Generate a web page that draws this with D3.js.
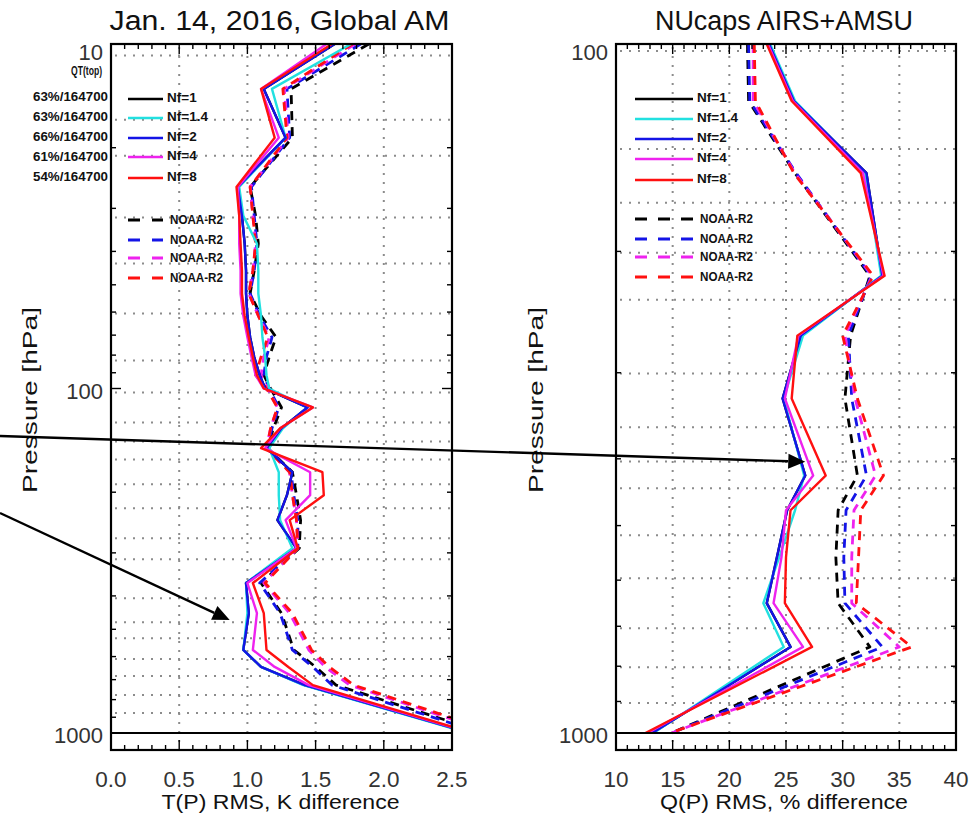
<!DOCTYPE html>
<html>
<head>
<meta charset="utf-8">
<script src="https://cdn.jsdelivr.net/npm/d3@7"></script>
<style>
  html, body { margin: 0; padding: 0; background: #fff; }
  svg { display: block; font-family: "Liberation Sans", Arial, sans-serif; }
</style>
</head>
<body>
<svg id="chart" width="976" height="822"></svg>
<script>
// ---------------- Temperature panel: T(P) RMS difference (K) ----------------
const tLevels = [10, 13.5, 18.7, 26, 31.5, 38, 45.5, 53, 61.5, 71, 81, 91.5, 100,
                 113.5, 130.5, 149, 175, 204, 241, 291, 367, 449, 574, 643, 726, 1000];
const tNf1  = [1.64, 1.12, 1.28, 0.93, 0.96, 0.98, 0.99, 0.99, 1.00, 1.02, 1.05, 1.09, 1.13,
               1.44, 1.25, 1.14, 1.33, 1.29, 1.22, 1.36, 0.99, 1.01, 0.97, 1.10, 1.42, 2.63];
const tNf14 = [1.76, 1.18, 1.28, 0.94, 0.97, 1.07, 1.08, 1.08, 1.10, 1.11, 1.13, 1.14, 1.16,
               1.44, 1.26, 1.16, 1.23, 1.23, 1.24, 1.33, 0.99, 1.00, 0.97, 1.10, 1.41, 2.62];
const tNf2  = [1.64, 1.12, 1.28, 0.93, 0.96, 0.98, 0.99, 0.99, 1.00, 1.02, 1.05, 1.09, 1.13,
               1.44, 1.25, 1.14, 1.33, 1.29, 1.22, 1.36, 0.99, 1.01, 0.97, 1.10, 1.42, 2.63];
const tNf4  = [1.58, 1.10, 1.23, 0.93, 0.94, 0.94, 0.95, 0.95, 0.97, 1.00, 1.03, 1.06, 1.12,
               1.48, 1.24, 1.13, 1.46, 1.46, 1.28, 1.36, 1.00, 1.07, 1.04, 1.20, 1.45, 2.64];
const tNf8  = [1.62, 1.10, 1.20, 0.92, 0.94, 0.95, 0.96, 0.96, 0.98, 1.01, 1.04, 1.07, 1.12,
               1.48, 1.24, 1.10, 1.55, 1.56, 1.31, 1.37, 1.04, 1.12, 1.14, 1.30, 1.48, 2.65];
const tR2k  = [1.89, 1.32, 1.33, 1.02, 1.06, 1.08, 1.05, 1.02, 1.10, 1.21, 1.16, 1.12, 1.17,
               1.25, 1.19, 1.15, 1.33, 1.36, 1.39, 1.38, 1.10, 1.25, 1.34, 1.50, 1.65, 2.75];
const tR2b  = [1.83, 1.29, 1.31, 1.03, 1.05, 1.07, 1.05, 1.02, 1.09, 1.18, 1.14, 1.12, 1.16,
               1.23, 1.18, 1.15, 1.32, 1.34, 1.37, 1.37, 1.09, 1.24, 1.33, 1.48, 1.62, 2.72];
const tR2m  = [1.79, 1.27, 1.30, 1.02, 1.04, 1.06, 1.04, 1.01, 1.08, 1.16, 1.12, 1.10, 1.15,
               1.22, 1.17, 1.14, 1.31, 1.33, 1.36, 1.37, 1.12, 1.31, 1.45, 1.57, 1.75, 2.80];
const tR2r  = [1.77, 1.26, 1.29, 1.02, 1.04, 1.06, 1.04, 1.01, 1.08, 1.15, 1.10, 1.06, 1.14,
               1.22, 1.17, 1.14, 1.31, 1.33, 1.36, 1.37, 1.13, 1.33, 1.47, 1.60, 1.78, 2.83];
const tGridLevels = [10.8, 16.6, 21.1, 31.9, 43.4, 60.6, 82.9, 102.7, 125.5, 142.4, 160.6,
                     189.8, 222.7, 272.1, 313.1, 406.2, 476.8, 530.4, 610.3, 683.5, 776.1, 875.1];
const tXTicks = [0.0, 0.5, 1.0, 1.5, 2.0, 2.5];

// ---------------- Moisture panel: Q(P) RMS difference (%) ----------------
const qLevels = [100, 121, 154, 217, 265, 327, 423, 475, 556, 648, 750, 1000];
const qNf1  = [23.5, 25.7, 32.1, 33.5, 26.3, 24.7, 26.7, 25.1, 24.2, 23.3, 25.4, 13.2];
const qNf14 = [23.6, 25.8, 32.0, 33.4, 26.5, 24.8, 26.6, 25.8, 24.4, 23.0, 24.8, 13.3];
const qNf2  = [23.5, 25.7, 32.1, 33.5, 26.3, 24.7, 26.7, 25.1, 24.2, 23.3, 25.4, 13.2];
const qNf4  = [23.4, 25.6, 31.8, 33.6, 26.1, 24.9, 27.4, 25.0, 24.6, 23.9, 26.5, 12.8];
const qNf8  = [23.3, 25.5, 31.6, 33.7, 26.0, 25.5, 28.5, 25.4, 25.0, 24.9, 27.3, 12.6];
const qR2k  = [21.6, 21.7, 25.8, 32.4, 30.7, 30.2, 31.3, 29.6, 29.4, 29.6, 32.4, 14.9];
const qR2b  = [21.7, 21.8, 25.9, 32.5, 30.5, 30.8, 32.1, 30.3, 30.1, 30.2, 33.5, 14.9];
const qR2m  = [22.1, 22.1, 25.8, 32.6, 30.2, 31.1, 32.9, 31.0, 30.8, 30.8, 35.0, 14.9];
const qR2r  = [22.2, 22.3, 25.7, 32.7, 30.0, 31.3, 33.6, 31.6, 31.4, 31.2, 36.1, 14.8];
const qGridLevels = [102.4, 142, 170, 200.9, 235, 300.8, 360, 403.5, 441.5, 516.4, 596.2,
                     704.5, 802.6, 904.8];
const qXTicks = [10, 15, 20, 25, 30, 35, 40];

// ---------------- Legend and annotation text ----------------
const nfNames = ["Nf=1", "Nf=1.4", "Nf=2", "Nf=4", "Nf=8"];
const refNames = ["NOAA-R2", "NOAA-R2", "NOAA-R2", "NOAA-R2"];
const qtHeader = "QT(top)";
const qtLabels = ["63%/164700", "63%/164700", "66%/164700", "61%/164700", "54%/164700"];

// ---------------- Styling ----------------
const nfColors  = ["#000000", "#22e0e0", "#1414e6", "#ee22ee", "#ff1010"];
const refColors = ["#000000", "#1414e6", "#ee22ee", "#ff1010"];

const svg = d3.select("#chart");
const defs = svg.append("defs");

function drawPanel(cfg) {
  const g = svg.append("g");
  const x = d3.scaleLinear().domain(cfg.xDomain).range([cfg.left, cfg.right]);
  const y = d3.scaleLog().domain([cfg.pTop, 1000]).range([cfg.top, cfg.y1000]);

  defs.append("clipPath").attr("id", "clip-" + cfg.id)
    .append("rect")
    .attr("x", cfg.left).attr("y", cfg.top)
    .attr("width", cfg.right - cfg.left).attr("height", cfg.bottom - cfg.top);

  // dotted grid
  const grid = g.append("g").attr("stroke", "#8c8c8c").attr("stroke-width", 2)
    .attr("stroke-dasharray", "2,7");
  grid.selectAll("line.h").data(cfg.gridLevels).join("line").attr("class", "h")
    .attr("x1", cfg.left + 4).attr("x2", cfg.right)
    .attr("y1", d => y(d)).attr("y2", d => y(d));
  grid.selectAll("line.v").data(cfg.xTicks.slice(1, -1)).join("line").attr("class", "v")
    .attr("x1", d => x(d)).attr("x2", d => x(d))
    .attr("y1", cfg.top + 3).attr("y2", cfg.bottom);

  // legend
  const lg = g.append("g");
  cfg.legendSolidRows.forEach((ry, i) => {
    lg.append("line").attr("x1", cfg.legX0).attr("x2", cfg.legX1).attr("y1", ry).attr("y2", ry)
      .attr("stroke", nfColors[i]).attr("stroke-width", 2.6);
    lg.append("text").attr("x", cfg.legX1 + 4).attr("y", ry + 3)
      .attr("font-size", 13.5).attr("font-weight", "bold").attr("fill", "#111")
      .text(nfNames[i]);
  });
  cfg.legendDashRows.forEach((ry, i) => {
    lg.append("line").attr("x1", cfg.legX0).attr("x2", cfg.legX1).attr("y1", ry).attr("y2", ry)
      .attr("stroke", refColors[i]).attr("stroke-width", 3)
      .attr("stroke-dasharray", cfg.legDash);
    lg.append("text").attr("x", cfg.legX1 + 7).attr("y", ry + 4)
      .attr("font-size", 13).attr("font-weight", "bold").attr("fill", "#111")
      .attr("textLength", 53).attr("lengthAdjust", "spacingAndGlyphs")
      .text(refNames[i]);
  });

  // profiles
  const line = d3.line().x(d => x(d[0])).y(d => y(d[1]));
  const plot = g.append("g").attr("clip-path", "url(#clip-" + cfg.id + ")")
    .attr("fill", "none").attr("stroke-linejoin", "round");
  cfg.refSeries.forEach((vals, i) => {
    plot.append("path").datum(vals.map((v, k) => [v, cfg.levels[k]]))
      .attr("d", line).attr("stroke", refColors[i]).attr("stroke-width", 2.8)
      .attr("stroke-dasharray", "9,7");
  });
  cfg.nfSeries.forEach((vals, i) => {
    plot.append("path").datum(vals.map((v, k) => [v, cfg.levels[k]]))
      .attr("d", line).attr("stroke", nfColors[i]).attr("stroke-width", 2.4);
  });

  // 1000 hPa reference line
  g.append("line").attr("x1", cfg.left).attr("x2", cfg.right)
    .attr("y1", y(1000)).attr("y2", y(1000))
    .attr("stroke", "#000").attr("stroke-width", 2.2);

  // frame
  g.append("rect").attr("x", cfg.left).attr("y", cfg.top)
    .attr("width", cfg.right - cfg.left).attr("height", cfg.bottom - cfg.top)
    .attr("fill", "none").attr("stroke", "#000").attr("stroke-width", 2.2);

  // x ticks (top and bottom, pointing inward)
  const tk = g.append("g").attr("stroke", "#000").attr("stroke-width", 1.4);
  const xMinor = d3.range(cfg.xDomain[0], cfg.xDomain[1] + cfg.xMinorStep / 2, cfg.xMinorStep);
  xMinor.forEach(v => {
    const major = cfg.xTicks.some(t => Math.abs(t - v) < 1e-6);
    const len = major ? 10 : 5;
    tk.append("line").attr("x1", x(v)).attr("x2", x(v))
      .attr("y1", cfg.bottom).attr("y2", cfg.bottom - len);
    tk.append("line").attr("x1", x(v)).attr("x2", x(v))
      .attr("y1", cfg.top).attr("y2", cfg.top + len);
  });
  // y ticks (left and right, pointing inward)
  cfg.yMinor.forEach(p => {
    tk.append("line").attr("x1", cfg.left).attr("x2", cfg.left + 5).attr("y1", y(p)).attr("y2", y(p));
    tk.append("line").attr("x1", cfg.right).attr("x2", cfg.right - 5).attr("y1", y(p)).attr("y2", y(p));
  });
  cfg.yMajor.forEach(p => {
    tk.append("line").attr("x1", cfg.left).attr("x2", cfg.left + 10).attr("y1", y(p)).attr("y2", y(p));
    tk.append("line").attr("x1", cfg.right).attr("x2", cfg.right - 10).attr("y1", y(p)).attr("y2", y(p));
  });

  // tick labels
  g.selectAll("text.xl").data(cfg.xTicks).join("text").attr("class", "xl")
    .attr("x", d => x(d)).attr("y", 787).attr("text-anchor", "middle")
    .attr("font-size", 22.5).attr("fill", "#333")
    .text(d => cfg.xFormat(d));
  g.selectAll("text.yl").data(cfg.yMajor).join("text").attr("class", "yl")
    .attr("x", cfg.left - 8).attr("y", d => Math.max(y(d) + 2, cfg.top + 8) + 8)
    .attr("text-anchor", "end").attr("font-size", 22).attr("fill", "#333")
    .text(d => String(d));

  // titles
  g.append("text").attr("x", (cfg.left + cfg.right) / 2 + cfg.titleShift).attr("y", 30)
    .attr("text-anchor", "middle").attr("font-size", 27).attr("fill", "#111")
    .attr("textLength", cfg.titleWidth).attr("lengthAdjust", "spacingAndGlyphs")
    .text(cfg.title);
  g.append("text").attr("x", (cfg.left + cfg.right) / 2 + cfg.xTitleShift).attr("y", 809)
    .attr("text-anchor", "middle").attr("font-size", 20).attr("fill", "#111")
    .attr("textLength", cfg.xTitleWidth).attr("lengthAdjust", "spacingAndGlyphs")
    .text(cfg.xTitle);
  g.append("text")
    .attr("transform", `translate(${cfg.yTitleX},400) rotate(-90)`)
    .attr("text-anchor", "middle").attr("font-size", 20).attr("fill", "#111")
    .attr("textLength", 186).attr("lengthAdjust", "spacingAndGlyphs")
    .text("Pressure [hPa]");

  return { x, y };
}

const tPanel = drawPanel({
  id: "t", left: 111, right: 452, top: 44, y1000: 733, bottom: 750,
  xDomain: [0, 2.5], pTop: 10, levels: tLevels,
  xTicks: tXTicks, xMinorStep: 0.1, xFormat: d3.format(".1f"),
  yMajor: [10, 100, 1000],
  yMinor: [20, 30, 40, 50, 60, 70, 80, 90, 200, 300, 400, 500, 600, 700, 800, 900],
  gridLevels: tGridLevels,
  nfSeries: [tNf1, tNf14, tNf2, tNf4, tNf8],
  refSeries: [tR2k, tR2b, tR2m, tR2r],
  legX0: 128, legX1: 163, legDash: "12,12",
  legendSolidRows: [99, 118, 138, 157, 178],
  legendDashRows: [220, 240, 258, 278],
  title: "Jan. 14, 2016, Global AM", titleWidth: 340, titleShift: -2,
  xTitle: "T(P) RMS, K difference", xTitleWidth: 238, xTitleShift: -1,
  yTitleX: 37
});

const qPanel = drawPanel({
  id: "q", left: 616, right: 956, top: 44, y1000: 733, bottom: 750,
  xDomain: [10, 40], pTop: 100, levels: qLevels,
  xTicks: qXTicks, xMinorStep: 1, xFormat: d3.format("d"),
  yMajor: [100, 1000],
  yMinor: [200, 300, 400, 500, 600, 700, 800, 900],
  gridLevels: qGridLevels,
  nfSeries: [qNf1, qNf14, qNf2, qNf4, qNf8],
  refSeries: [qR2k, qR2b, qR2m, qR2r],
  legX0: 635, legX1: 693, legDash: "12,11",
  legendSolidRows: [99, 119, 139, 159, 180],
  legendDashRows: [219, 239, 257, 277],
  title: "NUcaps AIRS+AMSU", titleWidth: 258, titleShift: -2,
  xTitle: "Q(P) RMS, % difference", xTitleWidth: 248, xTitleShift: -2,
  yTitleX: 543
});

// QT(top) column left of the temperature panel
svg.append("text").attr("x", 102).attr("y", 75).attr("text-anchor", "end")
  .attr("font-size", 13).attr("font-weight", "bold").attr("fill", "#111")
  .attr("textLength", 31).attr("lengthAdjust", "spacingAndGlyphs").text(qtHeader);
svg.selectAll("text.qt").data(qtLabels).join("text").attr("class", "qt")
  .attr("x", 33).attr("y", (d, i) => 100.5 + i * 20)
  .attr("font-size", 13).attr("font-weight", "bold").attr("fill", "#111")
  .attr("textLength", 75).attr("lengthAdjust", "spacingAndGlyphs")
  .text(d => d);

// Pointer arrows: from the left edge to the mid-tropospheric features
const arrows = [
  { fromY: 436, tip: () => [qPanel.x(26.7), qPanel.y(404)] },
  { fromY: 513, tip: () => [tPanel.x(0.87), tPanel.y(470)] }
];
const ag = svg.append("g");
arrows.forEach(a => {
  const [tx, ty] = a.tip();
  const x0 = 0, y0 = a.fromY;
  const ang = Math.atan2(ty - y0, tx - x0);
  const L = 17, W = 7.5;
  const bx = tx - L * Math.cos(ang), by = ty - L * Math.sin(ang);
  ag.append("line").attr("x1", x0).attr("y1", y0).attr("x2", bx).attr("y2", by)
    .attr("stroke", "#000").attr("stroke-width", 2.4);
  const px = -Math.sin(ang) * W, py = Math.cos(ang) * W;
  ag.append("path")
    .attr("d", `M${tx},${ty}L${bx + px},${by + py}L${bx - px},${by - py}Z`)
    .attr("fill", "#000");
});
</script>
</body>
</html>
